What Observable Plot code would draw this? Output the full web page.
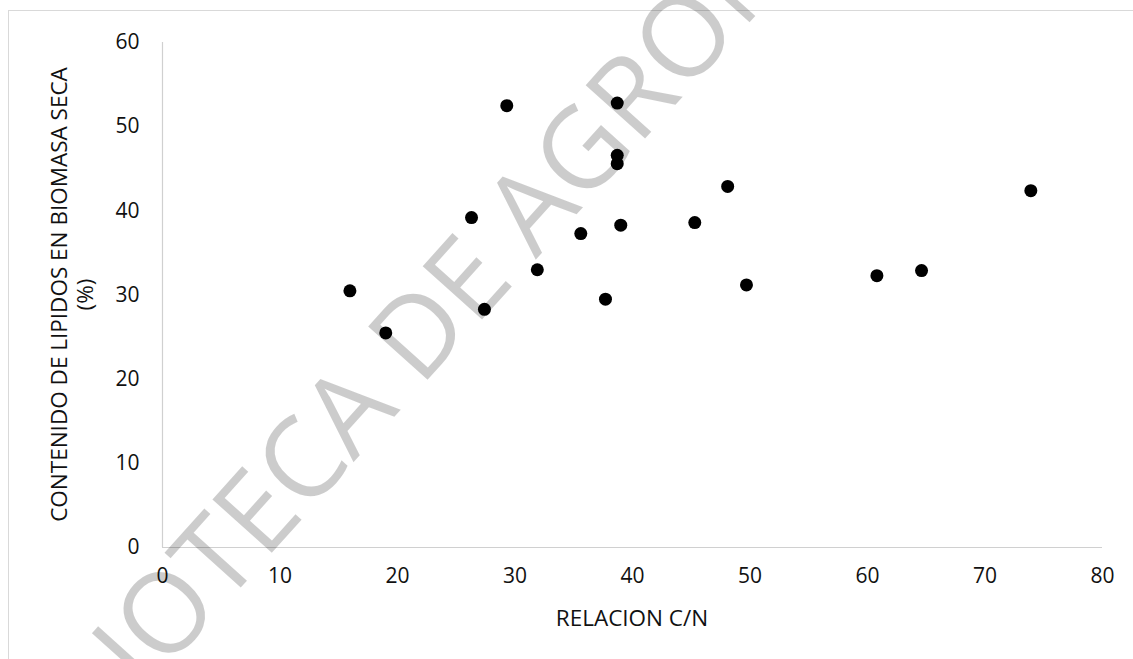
<!DOCTYPE html>
<html>
<head>
<meta charset="utf-8">
<script src="https://cdn.jsdelivr.net/npm/d3@7"></script>
<script src="https://cdn.jsdelivr.net/npm/@observablehq/plot@0.6"></script>
<style>
  html, body { margin: 0; padding: 0; background: #fff; }
  body { position: relative; width: 1133px; height: 659px; overflow: hidden; font-family: "Open Sans", sans-serif; }
  #frame { position: absolute; left: 8px; top: 10px; width: 1300px; height: 900px; border: 1px solid #d9d9d9; box-sizing: border-box; }
  #chart { position: absolute; left: 0; top: 0; }
  #wm { position: absolute; left: 458px; top: 282px; transform: translate(-50%, -50%) rotate(-48deg);
        font-family: "Open Sans", sans-serif; font-size: 112px; color: rgba(0,0,0,0.2); white-space: nowrap;
        pointer-events: none; line-height: 1; }
</style>
</head>
<body>
<div id="frame"></div>
<div id="chart"></div>
<div id="wm">BIBLIOTECA DE AGRONOMIA</div>
<script>
// Data
const relacionCN = [15.95, 19.0, 26.3, 27.4, 29.3, 31.9, 35.6, 37.7, 38.7, 38.7, 38.7, 39.0, 45.3, 48.1, 49.7, 60.8, 64.6, 73.9];
const lipidos    = [30.5, 25.5, 39.2, 28.3, 52.5, 33.0, 37.3, 29.5, 52.8, 46.6, 45.6, 38.3, 38.6, 42.9, 31.2, 32.3, 32.9, 42.4];
const xTicks = [0, 10, 20, 30, 40, 50, 60, 70, 80];
const yTicks = [0, 10, 20, 30, 40, 50, 60];
const xLabel = "RELACION C/N";
const yLabelLines = ["CONTENIDO DE LIPIDOS EN BIOMASA SECA", "(%)"];

const data = relacionCN.map((x, i) => ({x, y: lipidos[i]}));

const W = 1133, H = 659;
const mL = 162, mR = 31, mT = 42, mB = 112;
const tickFont = 21, titleFont = 22.5;

const plot = Plot.plot({
  width: W,
  height: H,
  marginLeft: mL,
  marginRight: mR,
  marginTop: mT,
  marginBottom: mB,
  style: { fontFamily: "Open Sans, sans-serif", fontSize: tickFont + "px", color: "#111", background: "transparent", overflow: "visible" },
  x: { domain: [0, 80] },
  y: { domain: [0, 60] },
  marks: [
    Plot.ruleY([0], { stroke: "#d0d0d0", strokeWidth: 1.2 }),
    Plot.ruleX([0], { stroke: "#d0d0d0", strokeWidth: 1.2 }),
    Plot.axisX({ ticks: xTicks, tickSize: 0, tickPadding: 21, label: null, fontSize: tickFont, fill: "#111" }),
    Plot.axisY({ ticks: yTicks, tickSize: 0, tickPadding: 23, label: null, fontSize: tickFont, fill: "#111" }),
    Plot.dot(data, { x: "x", y: "y", r: 6.5, fill: "#000", stroke: null })
  ]
});

const svg = d3.select(plot);
svg.append("text")
  .attr("x", mL + (W - mL - mR) / 2)
  .attr("y", 617)
  .attr("text-anchor", "middle")
  .attr("dominant-baseline", "central")
  .attr("font-size", titleFont)
  .attr("fill", "#111")
  .text(xLabel);

const cy = mT + (H - mT - mB) / 2;
yLabelLines.forEach((t, i) => {
  svg.append("text")
    .attr("transform", `translate(${58 + i * 26},${cy}) rotate(-90)`)
    .attr("text-anchor", "middle")
    .attr("dominant-baseline", "central")
    .attr("font-size", titleFont)
    .attr("fill", "#111")
    .text(t);
});

document.getElementById("chart").appendChild(plot);
</script>
</body>
</html>
